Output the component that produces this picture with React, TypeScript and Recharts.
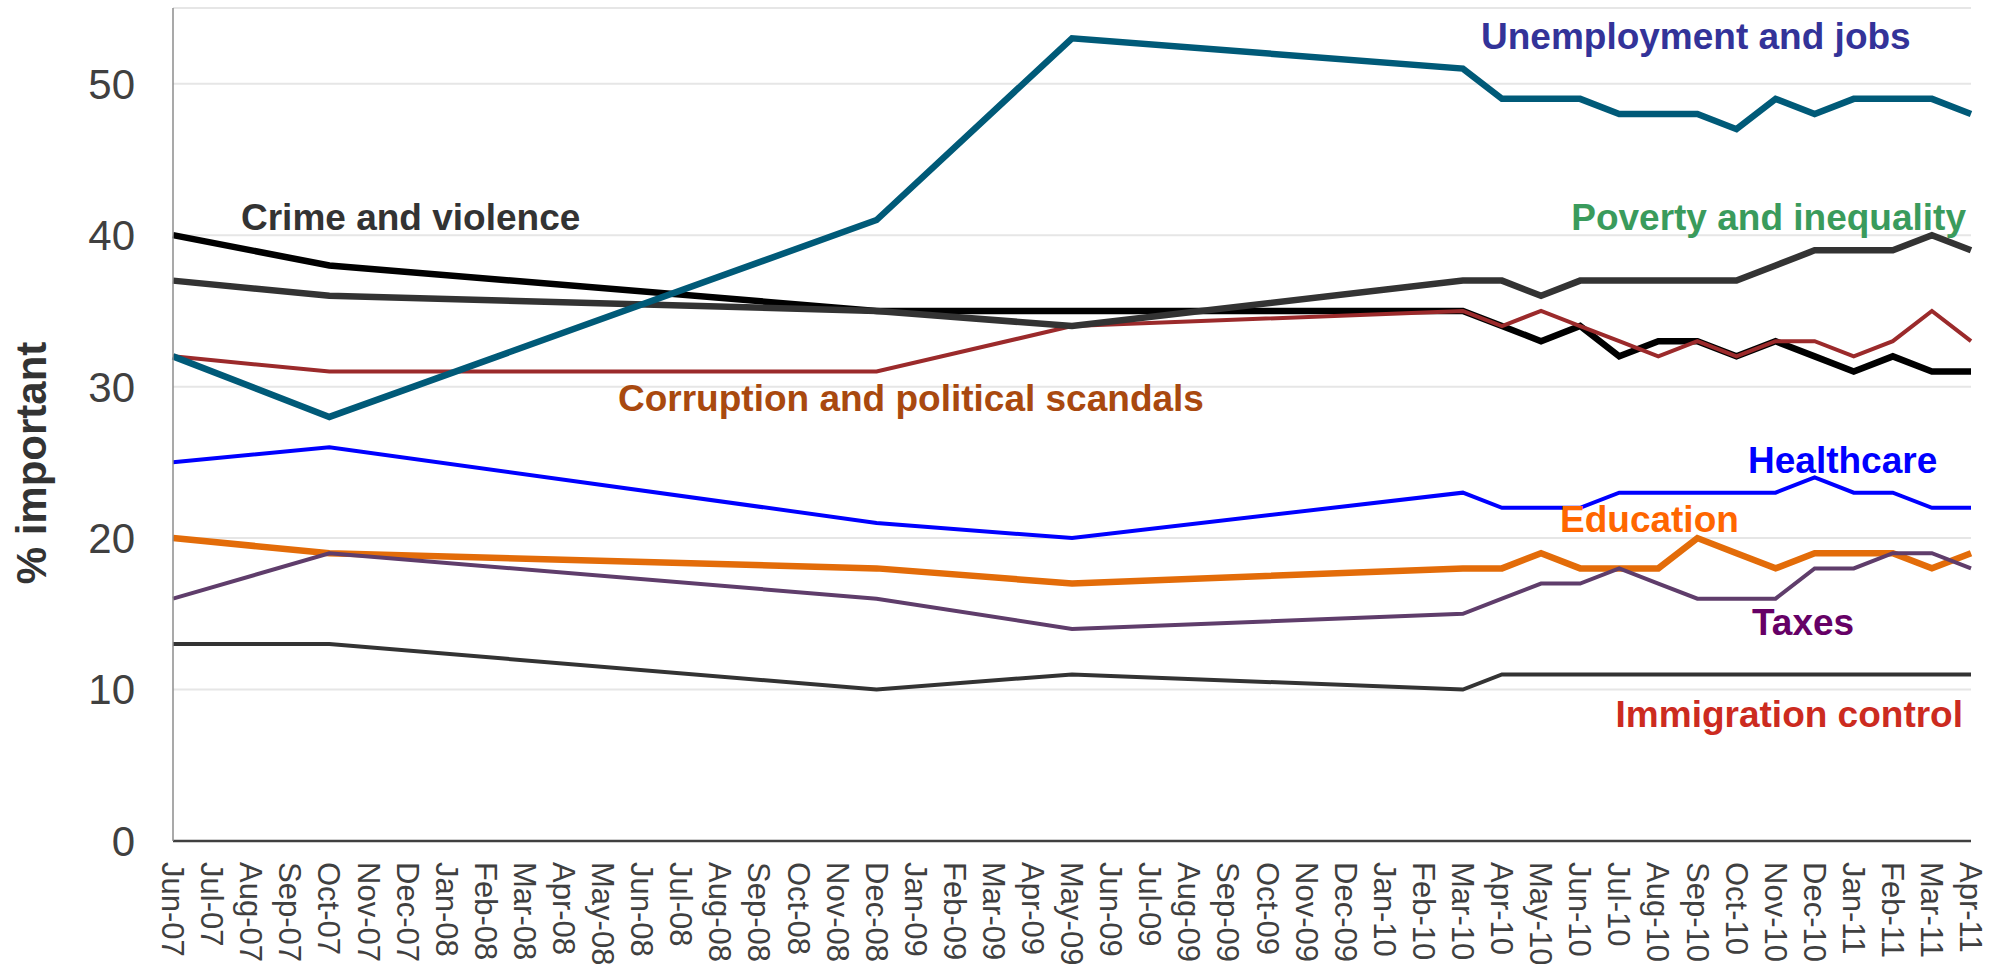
import React from 'react';
import { LineChart, Line, XAxis, YAxis, CartesianGrid } from 'recharts';

// every month on the axis
const months = [
  'Jun-07', 'Jul-07', 'Aug-07', 'Sep-07', 'Oct-07', 'Nov-07', 'Dec-07',
  'Jan-08', 'Feb-08', 'Mar-08', 'Apr-08', 'May-08', 'Jun-08', 'Jul-08', 'Aug-08', 'Sep-08', 'Oct-08', 'Nov-08', 'Dec-08',
  'Jan-09', 'Feb-09', 'Mar-09', 'Apr-09', 'May-09', 'Jun-09', 'Jul-09', 'Aug-09', 'Sep-09', 'Oct-09', 'Nov-09', 'Dec-09',
  'Jan-10', 'Feb-10', 'Mar-10', 'Apr-10', 'May-10', 'Jun-10', 'Jul-10', 'Aug-10', 'Sep-10', 'Oct-10', 'Nov-10', 'Dec-10',
  'Jan-11', 'Feb-11', 'Mar-11', 'Apr-11',
];

// months in which the survey was run
const surveyMonths = [
  'Jun-07', 'Oct-07', 'Dec-08', 'May-09', 'Mar-10', 'Apr-10', 'May-10', 'Jun-10', 'Jul-10',
  'Aug-10', 'Sep-10', 'Oct-10', 'Nov-10', 'Dec-10', 'Jan-11', 'Feb-11', 'Mar-11', 'Apr-11',
];

const unemployment = [32, 28, 41, 53, 51, 49, 49, 49, 48, 48, 48, 47, 49, 48, 49, 49, 49, 48];
const poverty = [37, 36, 35, 34, 37, 37, 36, 37, 37, 37, 37, 37, 38, 39, 39, 39, 40, 39];
const crime = [40, 38, 35, 35, 35, 34, 33, 34, 32, 33, 33, 32, 33, 32, 31, 32, 31, 31];
const corruption = [32, 31, 31, 34, 35, 34, 35, 34, 33, 32, 33, 32, 33, 33, 32, 33, 35, 33];
const healthcare = [25, 26, 21, 20, 23, 22, 22, 22, 23, 23, 23, 23, 23, 24, 23, 23, 22, 22];
const education = [20, 19, 18, 17, 18, 18, 19, 18, 18, 18, 20, 19, 18, 19, 19, 19, 18, 19];
const taxes = [16, 19, 16, 14, 15, 16, 17, 17, 18, 17, 16, 16, 16, 18, 18, 19, 19, 18];
const immigration = [13, 13, 10, 11, 10, 11, 11, 11, 11, 11, 11, 11, 11, 11, 11, 11, 11, 11];

const yTicks = [0, 10, 20, 30, 40, 50];

const FONT = '"Liberation Sans", Arial, sans-serif';

const rows = months.map((month) => {
  const i = surveyMonths.indexOf(month);
  const pick = (arr: number[]) => (i < 0 ? null : arr[i]);
  return {
    month,
    unemployment: pick(unemployment),
    poverty: pick(poverty),
    crime: pick(crime),
    corruption: pick(corruption),
    healthcare: pick(healthcare),
    education: pick(education),
    taxes: pick(taxes),
    immigration: pick(immigration),
  };
});

// drawn bottom to top
const series = [
  { key: 'education', color: '#E36C09', width: 6.5 },
  { key: 'taxes', color: '#5F3D6B', width: 4 },
  { key: 'healthcare', color: '#0000FF', width: 4 },
  { key: 'immigration', color: '#333333', width: 4 },
  { key: 'crime', color: '#000000', width: 6.5 },
  { key: 'corruption', color: '#9B2A2B', width: 4 },
  { key: 'poverty', color: '#333333', width: 6.5 },
  { key: 'unemployment', color: '#005A78', width: 6.5 },
];

const labels = [
  { text: 'Unemployment and jobs', x: 1481, y: 49, color: '#333399', anchor: 'start' },
  { text: 'Crime and violence', x: 241, y: 230, color: '#333333', anchor: 'start' },
  { text: 'Poverty and inequality', x: 1966, y: 230, color: '#3A9B5C', anchor: 'end' },
  { text: 'Corruption and political scandals', x: 618, y: 411, color: '#A9490F', anchor: 'start' },
  { text: 'Healthcare', x: 1748, y: 473, color: '#0000FF', anchor: 'start' },
  { text: 'Education', x: 1560, y: 532, color: '#FF6600', anchor: 'start' },
  { text: 'Taxes', x: 1752, y: 635, color: '#660066', anchor: 'start' },
  { text: 'Immigration control', x: 1963, y: 727, color: '#CC2B1F', anchor: 'end' },
];

const MonthTick = (props: any) => {
  const { x, y, payload } = props;
  return (
    <g transform={`translate(${x},${y + 21})`}>
      <text
        transform="rotate(90)"
        x={0}
        y={0}
        dy="0.35em"
        textAnchor="start"
        fill="#404040"
        style={{ fontSize: '31px', fontFamily: FONT }}
      >
        {payload.value}
      </text>
    </g>
  );
};

export default function App() {
  return (
    <div style={{ position: 'fixed', left: 0, top: 0, width: 1997, height: 964, background: '#fff' }}>
      <LineChart width={1997} height={964} data={rows} margin={{ top: 8, right: 26, bottom: 0, left: 0 }}>
        <CartesianGrid vertical={false} stroke="#E6E6E6" strokeWidth={2} />
        <XAxis
          dataKey="month"
          interval={0}
          height={123}
          tickLine={false}
          tickSize={0}
          tickMargin={0}
          axisLine={{ stroke: '#404040', strokeWidth: 2.5 }}
          tick={<MonthTick />}
        />
        <YAxis
          domain={[0, 55]}
          ticks={yTicks}
          width={173}
          tickLine={false}
          tickSize={0}
          tickMargin={38}
          axisLine={{ stroke: '#8C8C8C', strokeWidth: 1.5 }}
          tick={{ fontSize: 42, fill: '#404040', fontFamily: FONT }}
        />
        {series.map((s) => (
          <Line
            key={s.key}
            dataKey={s.key}
            type="linear"
            stroke={s.color}
            strokeWidth={s.width}
            dot={false}
            activeDot={false}
            connectNulls
            isAnimationActive={false}
          />
        ))}
      </LineChart>
      <svg
        width={1997}
        height={964}
        style={{ position: 'absolute', left: 0, top: 0, pointerEvents: 'none' }}
      >
        <text
          transform="translate(46,463) rotate(-90)"
          textAnchor="middle"
          fontSize={42}
          fontWeight="bold"
          fontFamily={FONT}
          fill="#333333"
        >
          % important
        </text>
        {labels.map((l) => (
          <text
            key={l.text}
            x={l.x}
            y={l.y}
            textAnchor={l.anchor as any}
            fontSize={37}
            fontWeight="bold"
            fontFamily={FONT}
            fill={l.color}
          >
            {l.text}
          </text>
        ))}
      </svg>
    </div>
  );
}
